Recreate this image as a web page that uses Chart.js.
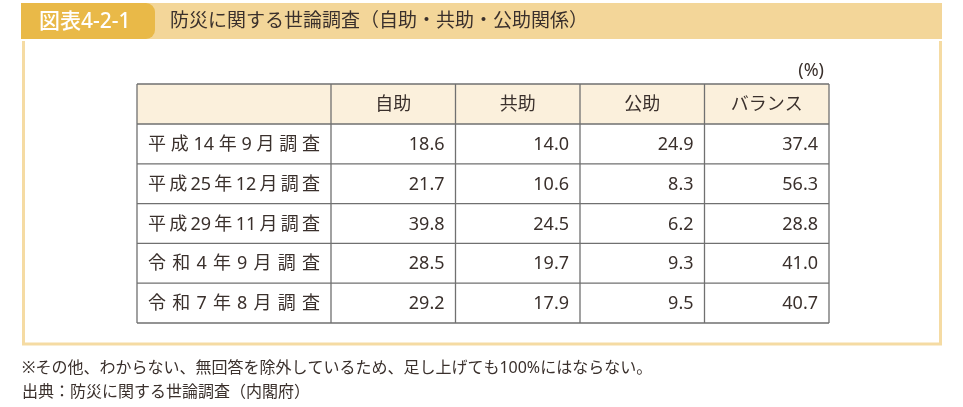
<!DOCTYPE html>
<html lang="ja">
<head>
<meta charset="utf-8">
<script src="https://cdn.jsdelivr.net/npm/chart.js@4.4.1/dist/chart.umd.min.js"></script>
<style>
  html, body { margin: 0; padding: 0; background: #fff; }
  canvas { display: block; }
</style>
</head>
<body>
<canvas id="ChartSurvey" width="963" height="407" style="width:963px;height:407px"></canvas>
<script>
(function () {
  "use strict";

  // Data
  const surveys  = ['平成14年9月調査', '平成25年12月調査', '平成29年11月調査', '令和4年9月調査', '令和7年8月調査'];
  const columns  = ['自助', '共助', '公助', 'バランス'];
  const jijo     = [18.6, 21.7, 39.8, 28.5, 29.2];
  const kyojo    = [14.0, 10.6, 24.5, 19.7, 17.9];
  const kojo     = [24.9, 8.3, 6.2, 9.3, 9.5];
  const balance  = [37.4, 56.3, 28.8, 41.0, 40.7];
  const unitLabel = '(%)';
  const figTag    = '図表4-2-1';
  const figTitle  = '防災に関する世論調査（自助・共助・公助関係）';
  const notes     = [
    '※その他、わからない、無回答を除外しているため、足し上げても100%にはならない。',
    '出典：防災に関する世論調査（内閣府）'
  ];

  // Colors
  const text_dark   = '#3a302c';
  const band_tan    = '#f3d699';
  const tab_gold    = '#e9b948';
  const box_tan     = '#f5dba3';
  const head_fill   = '#fbf0dc';
  const grid_gray   = '#707070';
  const FONT        = '"Noto Sans", "Noto Sans CJK JP", sans-serif';

  const seriesValues = [jijo, kyojo, kojo, balance];

  // one dataset per column, every point sits on (column, survey)
  const datasets = columns.map(function (col, c) {
    return {
      label: col,
      data: surveys.map(function (s, r) {
        return { x: col, y: s, v: seriesValues[c][r] };
      }),
      pointRadius: 0,
      pointHoverRadius: 0,
      showLine: false
    };
  });

  // draw a label spread over a width (digits kept together)
  function spreadText(ctx, str, x0, x1, y) {
    const tokens = str.match(/\d+|./g);
    const widths = tokens.map(function (t) { return ctx.measureText(t).width; });
    const total = widths.reduce(function (a, b) { return a + b; }, 0);
    const gap = tokens.length > 1 ? (x1 - x0 - total) / (tokens.length - 1) : 0;
    let x = x0;
    ctx.textAlign = 'left';
    tokens.forEach(function (t, i) {
      ctx.fillText(t, x, y);
      x += widths[i] + gap;
    });
  }

  const rowHeadWidth = 194;
  const headHeight   = 40;

  const tablePlugin = {
    id: 'surveyTable',
    beforeDraw: function (chart) {
      const ctx = chart.ctx;
      const area = chart.chartArea;
      ctx.save();
      ctx.fillStyle = '#fff';
      ctx.fillRect(0, 0, chart.width, chart.height);

      // title band
      ctx.fillStyle = band_tan;
      ctx.fillRect(21, 3, 921, 36);
      ctx.fillStyle = tab_gold;
      ctx.beginPath();
      ctx.roundRect(21, 3, 134, 36, [0, 9, 9, 0]);
      ctx.fill();
      ctx.textBaseline = 'middle';
      ctx.fillStyle = '#fff';
      ctx.font = '500 21px ' + FONT;
      ctx.textAlign = 'left';
      ctx.fillText(figTag, 39, 22);
      ctx.fillStyle = text_dark;
      ctx.font = '19px ' + FONT;
      ctx.fillText(figTitle, 170, 22);

      // frame
      ctx.strokeStyle = box_tan;
      ctx.lineWidth = 3;
      ctx.beginPath();
      ctx.moveTo(23.5, 41);
      ctx.lineTo(23.5, 344);
      ctx.lineTo(940.5, 344);
      ctx.lineTo(940.5, 41);
      ctx.stroke();

      // header row fill
      ctx.fillStyle = head_fill;
      ctx.fillRect(area.left - rowHeadWidth, area.top - headHeight, area.right - area.left + rowHeadWidth, headHeight);

      // notes
      ctx.fillStyle = text_dark;
      ctx.font = '16px ' + FONT;
      ctx.textAlign = 'left';
      ctx.fillText(notes[0], 22, 368);
      ctx.fillText(notes[1], 22, 392);
      ctx.restore();
    },
    afterDatasetsDraw: function (chart) {
      const ctx = chart.ctx;
      const area = chart.chartArea;
      const xs = chart.scales.x;
      const ys = chart.scales.y;
      const colW = (xs.right - xs.left) / columns.length;
      const rowH = (ys.bottom - ys.top) / surveys.length;
      const left = area.left - rowHeadWidth;
      const top = area.top - headHeight;

      ctx.save();
      // grid
      ctx.strokeStyle = grid_gray;
      ctx.lineWidth = 1.3;
      ctx.beginPath();
      ctx.moveTo(left, top); ctx.lineTo(xs.right, top);
      surveys.forEach(function (s, r) {
        const yb = ys.getPixelForValue(r) - rowH / 2;
        ctx.moveTo(left, yb); ctx.lineTo(xs.right, yb);
      });
      ctx.moveTo(left, ys.bottom); ctx.lineTo(xs.right, ys.bottom);
      ctx.moveTo(left, top); ctx.lineTo(left, ys.bottom);
      columns.forEach(function (c, i) {
        const xl = xs.getPixelForValue(i) - colW / 2;
        ctx.moveTo(xl, top); ctx.lineTo(xl, ys.bottom);
      });
      ctx.moveTo(xs.right, top); ctx.lineTo(xs.right, ys.bottom);
      ctx.stroke();

      ctx.fillStyle = text_dark;
      ctx.textBaseline = 'middle';

      // column heads
      ctx.font = '18px ' + FONT;
      ctx.textAlign = 'center';
      columns.forEach(function (c, i) {
        ctx.fillText(c, xs.getPixelForValue(i), top + headHeight / 2 + 1);
      });

      // unit
      ctx.textAlign = 'right';
      ctx.fillText(unitLabel, xs.right - 5, top - 13);

      // row heads
      surveys.forEach(function (s, r) {
        spreadText(ctx, s, left + 11, area.left - 11, ys.getPixelForValue(r) + 1);
      });

      // values
      ctx.textAlign = 'right';
      chart.data.datasets.forEach(function (ds, d) {
        const meta = chart.getDatasetMeta(d);
        meta.data.forEach(function (pt, i) {
          ctx.fillText(ds.data[i].v.toFixed(1), pt.x + colW / 2 - 11, pt.y + 1);
        });
      });
      ctx.restore();
    }
  };

  const el = document.getElementById('ChartSurvey');
  if (el != null) {
    new Chart(el.getContext('2d'), {
      type: 'scatter',
      data: { datasets: datasets },
      options: {
        responsive: false,
        animation: false,
        events: [],
        layout: {
          padding: { left: 331, top: 124, right: 134, bottom: 84 }
        },
        scales: {
          x: { type: 'category', labels: columns, offset: true, display: false },
          y: { type: 'category', labels: surveys, offset: true, display: false }
        },
        plugins: {
          legend: { display: false },
          tooltip: { enabled: false }
        }
      },
      plugins: [tablePlugin]
    });
  }
})();
</script>
</body>
</html>
